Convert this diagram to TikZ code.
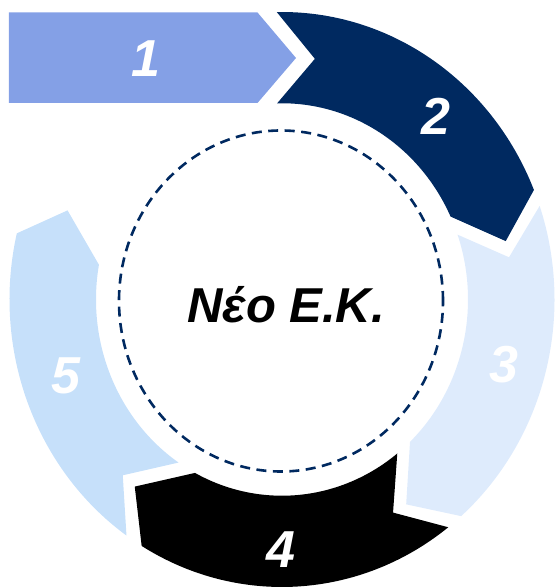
\documentclass[tikz,border=0pt]{standalone}
\usepackage{fontspec}
\setmainfont{Liberation Sans}
\definecolor{segA}{RGB}{132,160,230}
\definecolor{segB}{RGB}{0,41,96}
\definecolor{segC}{RGB}{222,235,252}
\definecolor{segD}{RGB}{0,0,0}
\definecolor{segE}{RGB}{198,224,250}
\tikzset{
  numlabel/.style={text=white, inner sep=0pt, anchor=center,
    font=\fontsize{52}{52}\selectfont\bfseries\itshape},
  centrelabel/.style={text=black, inner sep=0pt, anchor=base,
    font=\fontsize{49}{49}\selectfont\bfseries\itshape},
  dashring/.style={draw=segB, line width=2.6pt, dash pattern=on 10pt off 6.5pt}
}
\begin{document}
\begin{tikzpicture}[x=1pt,y=1pt]
\useasboundingbox (-282,-288.5) rectangle (275,299.5);
% segment 1 (straight chevron)
\fill[segA] (-273,287) -- (-24.5,287) -- (14,241.5) -- (-24.5,196.5) -- (-273,196.5) -- cycle;
\begin{scope}[yscale=1.055]
% segment 2
\fill[segB] (91.1:272.5) arc[start angle=91.1,end angle=22.4,radius=272.5]
  -- (13.9:230.5) -- (25:186) arc[start angle=25,end angle=91.5,radius=186]
  -- (81.8:230.5) -- cycle;
% segment 3
\fill[segC] (19.0:272.5) arc[start angle=19,end angle=-48.9,radius=272.5]
  -- (-57.4:230.5) -- (-46.5:186) arc[start angle=-46.5,end angle=19.3,radius=186]
  -- (10:230.5) -- cycle;
% segment 4
\fill[segD] (-52.4:272.5) arc[start angle=-52.4,end angle=-121,radius=272.5]
  -- (-129.7:230.5) -- (-117.9:186) arc[start angle=-117.9,end angle=-51.7,radius=186]
  -- (-61.2:230.5) -- cycle;
% segment 5
\fill[segE] (-124.8:272.5) arc[start angle=-124.8,end angle=-193.3,radius=272.5]
  -- (-201.5:230.5) -- (-190.2:186) arc[start angle=-190.2,end angle=-123.8,radius=186]
  -- (-133.7:230.5) -- cycle;
\end{scope}
% dashed inner circle
\draw[dashring] (-1,-1.5) ellipse [x radius=162, y radius=170.5];
% labels
\node[numlabel] (n1) at (-136,240.5) {1};
\node[numlabel] (n2) at (154,183.5) {2};
\node[numlabel] (n3) at (222,-65.2) {3};
\node[numlabel] (n4) at (-1,-250.2) {4};
\node[numlabel] (n5) at (-215.6,-76.8) {5};
\node[centrelabel] (centre) at (4,-23.2) {Νέο Ε.Κ.};
\end{tikzpicture}
\end{document}
